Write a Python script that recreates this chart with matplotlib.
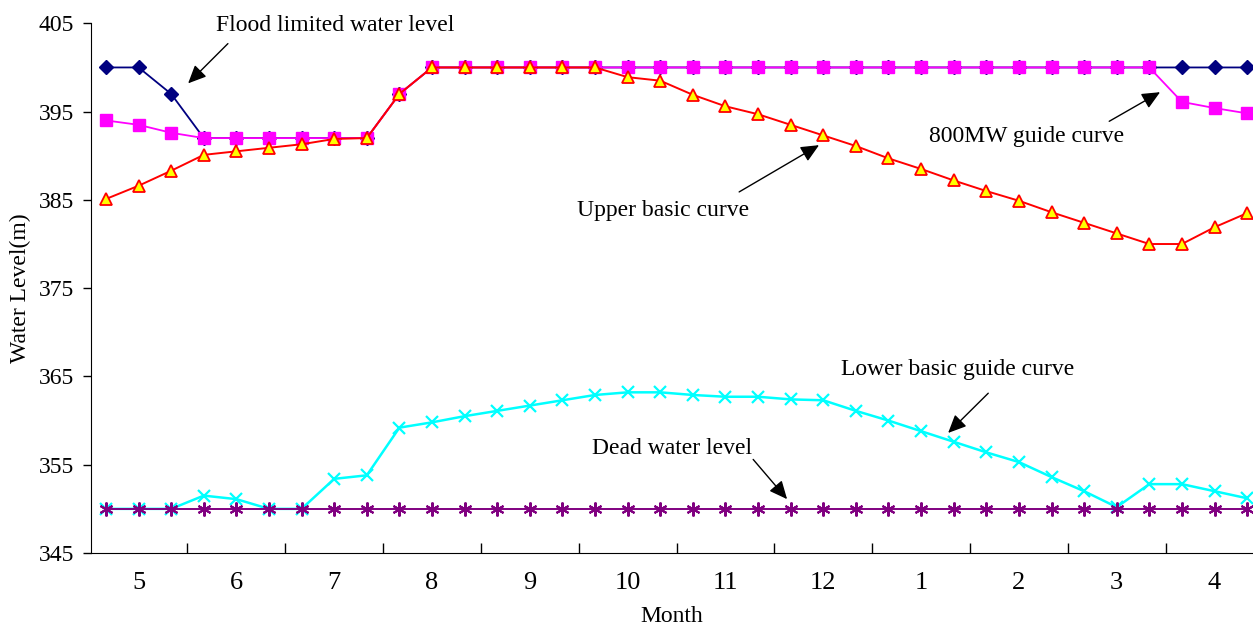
import matplotlib
matplotlib.use('Agg')
from matplotlib import pyplot as plt

plt.rcParams['font.family'] = ['Liberation Serif', 'DejaVu Serif']

# 36 ten-day periods, May to April
months = ['5', '6', '7', '8', '9', '10', '11', '12', '1', '2', '3', '4']

flood_limited = [400, 400, 397, 392, 392, 392, 392, 392, 392, 397,
                 400, 400, 400, 400, 400, 400, 400, 400, 400, 400,
                 400, 400, 400, 400, 400, 400, 400, 400, 400, 400,
                 400, 400, 400, 400, 400, 400]
guide_800mw = [394, 393.5, 392.6, 392, 392, 392, 392, 392, 392, 397,
               400, 400, 400, 400, 400, 400, 400, 400, 400, 400,
               400, 400, 400, 400, 400, 400, 400, 400, 400, 400,
               400, 400, 400, 396.1, 395.4, 394.8]
upper_basic = [385.1, 386.6, 388.3, 390.1, 390.5, 390.9, 391.3, 391.9, 392, 397,
               400, 400, 400, 400, 400, 400, 398.9, 398.5, 396.9, 395.6,
               394.7, 393.5, 392.3, 391.1, 389.7, 388.5, 387.2, 386.0, 384.9, 383.6,
               382.4, 381.2, 380.0, 380.0, 381.9, 383.5]
lower_basic = [350, 350, 350, 351.5, 351.1, 350, 350, 353.4, 353.8, 359.2,
               359.8, 360.5, 361.1, 361.7, 362.3, 362.9, 363.2, 363.2, 362.9, 362.7,
               362.7, 362.4, 362.3, 361.1, 360.0, 358.8, 357.6, 356.4, 355.3, 353.6,
               352.0, 350.2, 352.8, 352.8, 352.0, 351.2]
dead_level = [350] * 36

x = list(range(36))

fig = plt.figure(figsize=(12.53, 6.25), dpi=100)
ax = fig.add_axes([0.0726, 0.1152, 0.9274, 0.8475])

ax.plot(x, flood_limited, color='#000080', lw=1.3, marker='D', ms=7, clip_on=False)
ax.plot(x, guide_800mw, color='#FF00FF', lw=1.3, marker='s', ms=8, clip_on=False)
ax.plot(x, upper_basic, color='#FF0000', lw=1.4, marker='^', ms=9,
        mfc='#FFFF00', mec='#FF0000', mew=1.3, clip_on=False)
ax.plot(x, lower_basic, color='#00FFFF', lw=1.8, marker='x', ms=9, mew=1.6, clip_on=False)
ax.plot(x, dead_level, color='#800080', lw=1.4, marker=(6, 2, 0), ms=10, mew=1.5, clip_on=False)

ax.set_xlim(-0.46, 35.18)
ax.set_ylim(345, 405)
ax.set_yticks(range(345, 406, 10))

ax.set_xticks([1 + 3 * i for i in range(12)])
ax.set_xticklabels(months, fontsize=19)
ax.set_xticks([2.5 + 3 * i for i in range(11)], minor=True)
ax.tick_params(axis='x', which='major', length=0, pad=14)
ax.tick_params(axis='x', which='minor', direction='in', length=7, width=1)
ax.tick_params(axis='y', direction='out', length=6, width=1, labelsize=17, pad=6)

ax.spines['top'].set_visible(False)
ax.spines['right'].set_visible(False)

ax.set_ylabel('Water Level(m)', fontsize=17, labelpad=6)
ax.set_xlabel('Month', fontsize=17, labelpad=8)

# labels with arrows
arrow = dict(arrowstyle='-|>,head_length=1.1,head_width=0.5', color='black', lw=1, shrinkA=0, shrinkB=0)
labels = [
    ('Flood limited water level', (7.02, 404.8), (3.74, 402.7), (2.52, 398.2)),
    ('Upper basic curve', (17.09, 383.8), (19.42, 385.9), (21.87, 391.2)),
    ('800MW guide curve', (28.22, 392.2), (30.77, 393.9), (32.33, 397.2)),
    ('Lower basic guide curve', (26.13, 365.8), (27.06, 363.1), (25.83, 358.6)),
    ('Dead water level', (17.36, 356.8), (19.85, 355.6), (20.89, 351.1)),
]
for text, pos, tail, tip in labels:
    ax.text(pos[0], pos[1], text, fontsize=17, ha='center', va='center')
    ax.annotate('', xy=tip, xytext=tail, arrowprops=arrow)

fig.savefig('out.png', dpi=100)
